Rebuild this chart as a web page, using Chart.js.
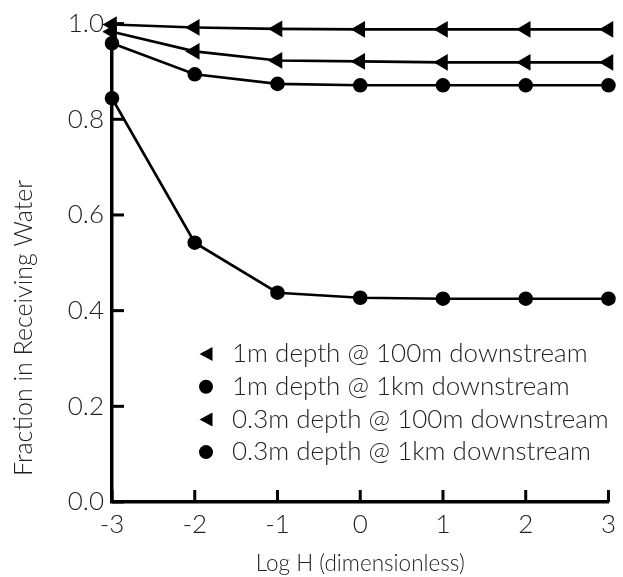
<!DOCTYPE html>
<html><head><meta charset="utf-8">
<script src="https://cdn.jsdelivr.net/npm/chart.js@4/dist/chart.umd.min.js"></script>
<style>html,body{margin:0;padding:0;background:#fff}#wrap{width:623px;height:577px}</style>
</head><body><div id="wrap"><canvas id="c"></canvas></div>
<script>
const logH = [-3, -2, -1, 0, 1, 2, 3];
const yTicks = [0.0, 0.2, 0.4, 0.6, 0.8, 1.0];
const s1m100 = [0.998, 0.992, 0.989, 0.988, 0.988, 0.988, 0.988];
const s1m1k = [0.959, 0.894, 0.874, 0.871, 0.871, 0.871, 0.871];
const s03m100 = [0.983, 0.942, 0.923, 0.921, 0.919, 0.919, 0.919];
const s03m1k = [0.844, 0.542, 0.4375, 0.427, 0.425, 0.425, 0.425];
const labels = ['1m depth @ 100m downstream', '1m depth @ 1km downstream', '0.3m depth @ 100m downstream', '0.3m depth @ 1km downstream'];
const yTitle = 'Fraction in Receiving Water';
const xTitle = 'Log H (dimensionless)';
const FONT = 'Lato, "DejaVu Sans", sans-serif';
const TXT = '#222';

function ds(label, vals, tri) {
  return {
    label, data: logH.map((x, i) => ({x, y: vals[i]})),
    borderColor: '#000', backgroundColor: '#000', borderWidth: 2.6,
    pointStyle: tri ? 'triangle' : 'circle', pointRotation: tri ? -90 : 0,
    pointRadius: tri ? 7 : 6, pointHoverRadius: tri ? 7 : 6, clip: false, tension: 0
  };
}

const extras = {
  id: 'extras',
  afterDraw(chart) {
    const {ctx, chartArea: a, scales: {x, y}} = chart;
    ctx.save();
    ctx.strokeStyle = '#000'; ctx.lineWidth = 3;
    logH.forEach(v => { const px = x.getPixelForValue(v); ctx.beginPath(); ctx.moveTo(px, a.bottom); ctx.lineTo(px, a.bottom - 12); ctx.stroke(); });
    yTicks.forEach(v => { const py = y.getPixelForValue(v); ctx.beginPath(); ctx.moveTo(a.left, py); ctx.lineTo(a.left + 12, py); ctx.stroke(); });
    // y title
    ctx.fillStyle = TXT;
    ctx.font = '300 25px ' + FONT;
    ctx.textAlign = 'center'; ctx.textBaseline = 'middle';
    ctx.save();
    ctx.translate(24, 328);
    ctx.rotate(-Math.PI / 2);
    ctx.fillText(yTitle, 0, 0);
    ctx.restore();
    // legend
    const lx = a.left + 94, ly0 = 354, dy = 32.7;
    chart.data.datasets.forEach((d, i) => {
      const yy = ly0 + i * dy;
      ctx.fillStyle = '#000';
      ctx.beginPath();
      if (d.pointStyle === 'triangle') {
        ctx.moveTo(lx - 6.5, yy); ctx.lineTo(lx + 6.5, yy - 7); ctx.lineTo(lx + 6.5, yy + 7); ctx.closePath();
      } else {
        ctx.arc(lx, yy, 7, 0, Math.PI * 2);
      }
      ctx.fill();
      ctx.fillStyle = TXT;
      ctx.font = '300 26px ' + FONT;
      ctx.textBaseline = 'middle'; ctx.textAlign = 'left';
      ctx.fillText(d.label, lx + 26, yy);
    });
    ctx.restore();
  }
};

new Chart(document.getElementById('c'), {
  type: 'line',
  data: { datasets: [ds(labels[0], s1m100, true), ds(labels[1], s1m1k, false), ds(labels[2], s03m100, true), ds(labels[3], s03m1k, false)] },
  options: {
    responsive: true, maintainAspectRatio: false, animation: false,
    layout: { padding: { left: 0, right: 12, top: 22, bottom: 0 } },
    plugins: { legend: { display: false }, tooltip: { enabled: false } },
    scales: {
      x: {
        type: 'linear', min: -3, max: 3,
        afterBuildTicks: s => { s.ticks = logH.map(v => ({value: v})); },
        afterFit: s => { s.height = 75; },
        grid: { display: false, drawTicks: false },
        border: { display: true, color: '#000', width: 3.5 },
        ticks: { color: TXT, font: { family: FONT, size: 26, weight: '300' }, padding: 7, callback: v => String(v) },
        title: { display: true, text: xTitle, color: TXT, font: { family: FONT, size: 22.5, weight: '300' }, padding: { top: 0, bottom: 0 } }
      },
      y: {
        min: 0, max: 1.0,
        afterBuildTicks: s => { s.ticks = yTicks.map(v => ({value: v})); },
        afterFit: s => { s.width = 112; },
        grid: { display: false, drawTicks: false },
        border: { display: true, color: '#000', width: 3.5 },
        ticks: { color: TXT, font: { family: FONT, size: 26, weight: '300' }, padding: 8, callback: v => Number(v).toFixed(1) }
      }
    }
  },
  plugins: [extras]
});
</script></body></html>
